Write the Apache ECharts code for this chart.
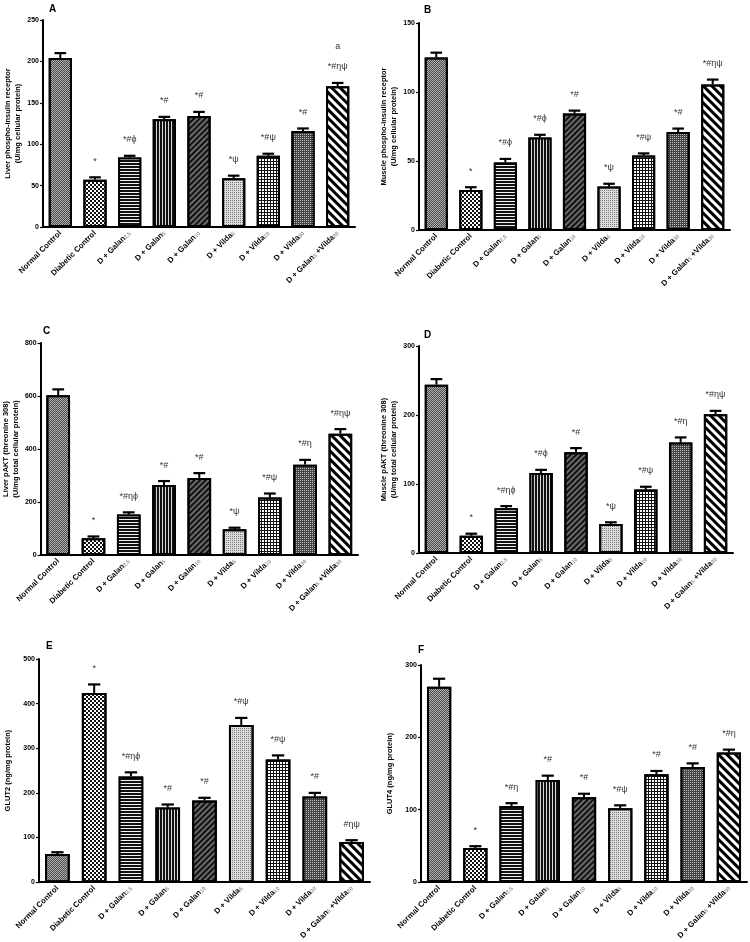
<!DOCTYPE html>
<html>
<head>
<meta charset="utf-8">
<script src="https://cdn.jsdelivr.net/npm/echarts@6/dist/echarts.min.js"></script>
<style>
html,body{margin:0;padding:0;background:#fff;}
#chart{width:750px;height:942px;}
</style>
</head>
<body>
<div id="chart"></div>
<script>
// ---------- DATA ----------
const categories = ['Normal Control', 'Diabetic Control', 'D + Galan2.5', 'D + Galan5', 'D + Galan10',
  'D + Vilda5', 'D + Vilda10', 'D + Vilda30', 'D + Galan5 +Vilda30'];

const liverIR = [204, 57, 84, 130, 134, 59, 86, 116, 170];
const liverIRErr = [6, 3, 2, 3, 5, 3, 2.5, 3, 4];
const liverIRSig = ['', '*', '*#ϕ', '*#', '*#', '*ψ', '*#ψ', '*#', 'a\n\n*#ηψ'];

const muscleIR = [125, 29, 49, 67, 84.5, 31.5, 54, 71, 105.5];
const muscleIRErr = [3.5, 2, 2.5, 2, 2, 2, 1.5, 2.5, 3.5];
const muscleIRSig = ['', '*', '*#ϕ', '*#ϕ', '*#', '*ψ', '*#ψ', '*#', '*#ηψ'];

const liverAKT = [603, 63, 153, 264, 291, 97, 217, 341, 458];
const liverAKTErr = [22, 7, 8, 15, 18, 6, 15, 18, 17];
const liverAKTSig = ['', '*', '*#ηϕ', '*#', '*#', '*ψ', '*#ψ', '*#η', '*#ηψ'];

const muscleAKT = [244, 25, 65, 116, 146, 42, 92, 160, 201];
const muscleAKTErr = [8, 3, 3, 4.5, 6, 2.5, 4, 7.5, 5];
const muscleAKTSig = ['', '*', '*#ηϕ', '*#ϕ', '*#', '*ψ', '*#ψ', '*#η', '*#ηψ'];

const glut2 = [63, 424, 237, 167, 183, 352, 275, 192, 90];
const glut2Err = [4, 19, 9, 7, 6, 16, 9, 8, 4];
const glut2Sig = ['', '*', '*#ηϕ', '*#', '*#', '*#ψ', '*#ψ', '*#', '#ηψ'];

const glut4 = [270, 47, 105, 141, 117, 102, 149, 159, 179];
const glut4Err = [11, 2.5, 4, 6, 5, 4, 4.5, 5, 4];
const glut4Sig = ['', '*', '*#η', '*#', '*#', '*#ψ', '*#', '*#', '*#η'];

// ---------- STYLE ----------
const FONT = '"Liberation Sans", Arial, sans-serif';
const patterns = [
  { color: '#b0b0b0', decal: { color: '#4a4a4a', dashArrayX: [[1, 1], [0, 1, 1, 0]], dashArrayY: [1, 0] } },
  { color: '#ffffff', decal: { color: '#111111', dashArrayX: [[2, 2], [0, 2, 2, 0]], dashArrayY: [2, 0] } },
  { color: '#111111', decal: { color: '#f0f0f0', dashArrayX: [10, 0], dashArrayY: [1, 2] } },
  { color: '#111111', decal: { color: '#d8d8d8', dashArrayX: [1, 2], dashArrayY: [10, 0] } },
  { color: '#6a6a6a', decal: { color: '#111111', dashArrayX: [10, 0], dashArrayY: [1.2, 1.6], rotation: -Math.PI / 4 } },
  { color: '#dcdcdc', decal: { color: '#7a7a7a', dashArrayX: [1, 1], dashArrayY: [1, 1] } },
  { color: '#ffffff', decal: { color: '#111111', dashArrayX: [[1, 2], [3, 0]], dashArrayY: [2, 0, 1, 0] } },
  { color: '#444444', decal: { color: '#bdbdbd', dashArrayX: [1, 1], dashArrayY: [1, 1] } },
  { color: '#ffffff', decal: { color: '#000000', dashArrayX: [10, 0], dashArrayY: [2.8, 2.8], rotation: Math.PI / 4 } }
];

const panels = [
  { letter: 'A', lx: 44, ly: -1, grid: { left: 43, top: 20, width: 312, height: 207 }, max: 250, interval: 50,
    name: 'Liver phospho-insulin receptor\n(U/mg cellular protein)', nameGap: 16,
    values: liverIR, err: liverIRErr, sig: liverIRSig },
  { letter: 'B', lx: 419, ly: 0, grid: { left: 419, top: 23, width: 311, height: 207 }, max: 150, interval: 50,
    name: 'Muscle phospho-insulin receptor\n(U/mg cellular protein)', nameGap: 19,
    values: muscleIR, err: muscleIRErr, sig: muscleIRSig },
  { letter: 'C', lx: 38, ly: 321, grid: { left: 40, top: 343, width: 318, height: 212 }, max: 800, interval: 200,
    name: 'Liver pAKT (threonine 308)\n(U/mg total cellular protein)', nameGap: 19,
    values: liverAKT, err: liverAKTErr, sig: liverAKTSig },
  { letter: 'D', lx: 419, ly: 325, grid: { left: 419, top: 346, width: 314, height: 207 }, max: 300, interval: 100,
    name: 'Muscle pAKT (threonine 308)\n(U/mg total cellular protein)', nameGap: 19,
    values: muscleAKT, err: muscleAKTErr, sig: muscleAKTSig },
  { letter: 'E', lx: 41, ly: 636, grid: { left: 39, top: 659, width: 331, height: 224 }, max: 500, interval: 100,
    name: 'GLUT2 (ng/mg protein)', nameGap: 26,
    values: glut2, err: glut2Err, sig: glut2Sig },
  { letter: 'F', lx: 413, ly: 640, grid: { left: 421, top: 665, width: 326, height: 217 }, max: 300, interval: 100,
    name: 'GLUT4 (ng/mg protein)', nameGap: 26,
    values: glut4, err: glut4Err, sig: glut4Sig }
];

function fmtCat(v) {
  return v.replace(/(Galan|Vilda)([\d.]+)/g, '$1{s|$2}');
}

const option = {
  backgroundColor: '#ffffff',
  animation: false,
  title: [], grid: [], xAxis: [], yAxis: [], series: []
};

panels.forEach((p, k) => {
  option.title.push({ text: p.letter, left: p.lx, top: p.ly,
    textStyle: { fontSize: 10, fontWeight: 'bold', fontFamily: FONT, color: '#000' } });
  option.grid.push(Object.assign({ containLabel: false }, p.grid));
  option.xAxis.push({
    type: 'category', gridIndex: k, data: categories,
    axisLine: { lineStyle: { color: '#000', width: 2 } },
    axisTick: { alignWithLabel: true, length: 3, lineStyle: { color: '#000', width: 1.2 } },
    axisLabel: {
      interval: 0, rotate: 45, margin: 5, color: '#000', fontSize: 7.8, fontWeight: 'bold', fontFamily: FONT,
      formatter: fmtCat,
      rich: { s: { fontSize: 5.5, color: '#999', fontWeight: 'bold', fontFamily: FONT, verticalAlign: 'bottom' } }
    },
    splitLine: { show: false }
  });
  option.yAxis.push({
    type: 'value', gridIndex: k, min: 0, max: p.max, interval: p.interval,
    name: p.name, nameLocation: 'middle', nameRotate: 90, nameGap: p.nameGap,
    nameTextStyle: { fontSize: 7.5, fontWeight: 'bold', fontFamily: FONT, color: '#000', lineHeight: 10 },
    axisLine: { show: true, lineStyle: { color: '#000', width: 2 } },
    axisTick: { show: true, length: 3, lineStyle: { color: '#000', width: 1.2 } },
    axisLabel: { color: '#000', fontSize: 7, fontWeight: 'bold', fontFamily: FONT, margin: 4 },
    splitLine: { show: false }
  });
  option.series.push({
    type: 'bar', xAxisIndex: k, yAxisIndex: k, barCategoryGap: '33%',
    data: p.values.map((v, i) => ({
      value: v,
      itemStyle: { color: patterns[i].color,
        decal: Object.assign({ symbol: 'rect', symbolSize: 1, symbolKeepAspect: false }, patterns[i].decal),
        borderColor: '#000', borderWidth: 2 }
    })),
    z: 2
  });
  const vals = p.values, errs = p.err, sigs = p.sig;
  option.series.push({
    type: 'custom', xAxisIndex: k, yAxisIndex: k, z: 3,
    data: vals.map((v, i) => [i, v + errs[i]]),
    renderItem: function (params, api) {
      const i = params.dataIndex;
      const p0 = api.coord([i, vals[i]]);
      const p1 = api.coord([i, vals[i] + errs[i]]);
      const bw = api.size([1, 0])[0] * 0.67;
      const hw = bw * 0.25;
      const children = [
        { type: 'line', shape: { x1: p0[0], y1: p0[1], x2: p1[0], y2: p1[1] }, style: { stroke: '#000', lineWidth: 2 } },
        { type: 'line', shape: { x1: p1[0] - hw, y1: p1[1], x2: p1[0] + hw, y2: p1[1] }, style: { stroke: '#000', lineWidth: 2.2 } }
      ];
      if (sigs[i]) {
        children.push({ type: 'text', x: p1[0], y: p1[1] - 11,
          style: { text: sigs[i], textAlign: 'center', textVerticalAlign: 'bottom',
            font: '9px ' + FONT, fill: '#333', lineHeight: 10 } });
      }
      return { type: 'group', children: children };
    }
  });
});

const chart = echarts.init(document.getElementById('chart'), null, { renderer: 'canvas' });
chart.setOption(option);
</script>
</body>
</html>
